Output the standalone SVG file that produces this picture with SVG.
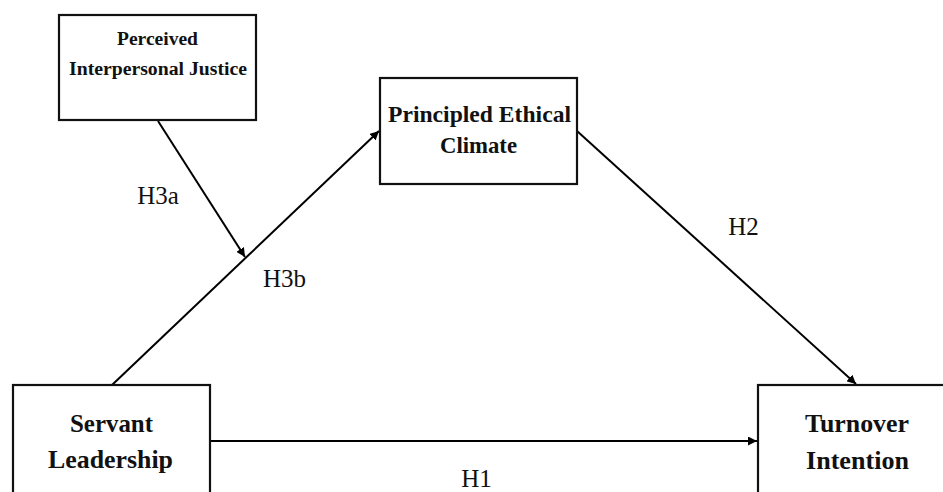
<svg xmlns="http://www.w3.org/2000/svg" width="943" height="492" viewBox="0 0 943 492">
<defs>
<marker id="arr" viewBox="0 0 10 10" refX="10" refY="5" markerWidth="4.5" markerHeight="4.5" orient="auto" markerUnits="strokeWidth">
<path d="M0,0 L10,5 L0,10 z" fill="#000"/>
</marker>
</defs>
<style>
.box{fill:#fff;stroke:#111;stroke-width:2.2}
.nt{font-family:"Liberation Serif","Times New Roman",serif;font-weight:bold;fill:#111;text-anchor:middle}
.lbl{font-family:"Liberation Serif","Times New Roman",serif;font-size:25px;fill:#111;text-anchor:middle}
.edge{stroke:#000;stroke-width:2;fill:none;marker-end:url(#arr)}
</style>
<rect width="943" height="492" fill="#fff"/>
<g id="connectors">
<line class="edge" x1="158" y1="121" x2="245" y2="257"/>
<line class="edge" x1="112" y1="385" x2="379" y2="131"/>
<line class="edge" x1="577" y1="131" x2="856" y2="384"/>
<line class="edge" x1="210" y1="441" x2="757" y2="441"/>
</g>
<g id="perceived-justice">
<rect class="box" x="59" y="15" width="197" height="105"/>
<text class="nt" x="157.5" y="45" font-size="18" textLength="81" lengthAdjust="spacingAndGlyphs">Perceived</text>
<text class="nt" x="158" y="75" font-size="18" textLength="178" lengthAdjust="spacingAndGlyphs">Interpersonal Justice</text>
</g>
<g id="ethical-climate">
<rect class="box" x="380" y="78" width="197" height="106"/>
<text class="nt" x="479.5" y="122" font-size="23" textLength="183" lengthAdjust="spacingAndGlyphs">Principled Ethical</text>
<text class="nt" x="478.5" y="153" font-size="23" textLength="77" lengthAdjust="spacingAndGlyphs">Climate</text>
</g>
<g id="servant-leadership">
<rect class="box" x="13" y="385" width="197" height="120"/>
<text class="nt" x="111.5" y="432" font-size="25" textLength="83" lengthAdjust="spacingAndGlyphs">Servant</text>
<text class="nt" x="110.5" y="468" font-size="25" textLength="125" lengthAdjust="spacingAndGlyphs">Leadership</text>
</g>
<g id="turnover-intention">
<rect class="box" x="758" y="385" width="200" height="120"/>
<text class="nt" x="857" y="432" font-size="25" textLength="104" lengthAdjust="spacingAndGlyphs">Turnover</text>
<text class="nt" x="857.5" y="469" font-size="25" textLength="103" lengthAdjust="spacingAndGlyphs">Intention</text>
</g>
<g id="labels">
<text class="lbl" x="158" y="204">H3a</text>
<text class="lbl" x="284.5" y="287">H3b</text>
<text class="lbl" x="743.5" y="235">H2</text>
<text class="lbl" x="476.5" y="487">H1</text>
</g>
</svg>
